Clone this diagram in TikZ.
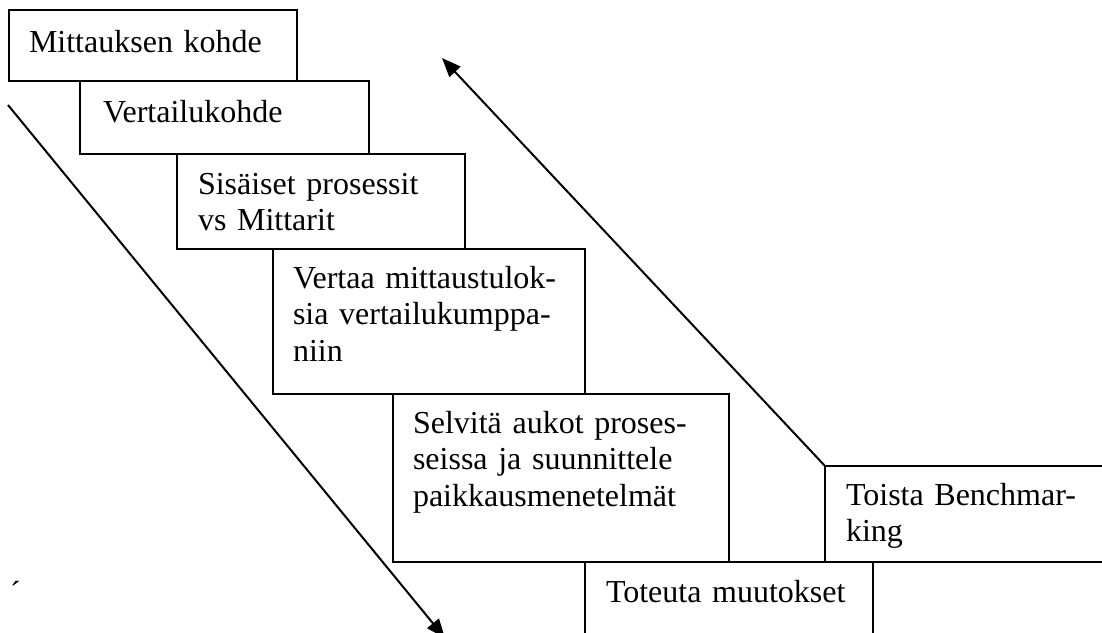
\documentclass[tikz,border=0pt]{standalone}
\usepackage{fontspec}
\setmainfont{Liberation Serif}
\usetikzlibrary{arrows.meta,calc}

\tikzset{
  stepbox/.style={draw=black, line width=2.2pt, rectangle, inner sep=0pt, outer sep=0pt, anchor=north west},
  steptext/.style={anchor=base west, inner sep=0pt, outer sep=0pt, text width=420pt, align=left,
    font=\fontsize{32}{36.7}\selectfont},
  flow/.style={draw=black, line width=2pt, -{Triangle[length=19pt,width=15pt]}},
}

\begin{document}
\begin{tikzpicture}[x=1pt, y=-1pt]
  \useasboundingbox (0,0) rectangle (1102,632);

  % staircase of steps
  \node[stepbox, minimum width=288pt, minimum height=71pt] (b1) at (9,10) {};
  \node[stepbox, minimum width=289pt, minimum height=73pt] (b2) at (80,81) {};
  \node[stepbox, minimum width=288pt, minimum height=95pt] (b3) at (177,154) {};
  \node[stepbox, minimum width=312pt, minimum height=145pt] (b4) at (273,249) {};
  \node[stepbox, minimum width=336pt, minimum height=168pt] (b5) at (393,394) {};
  \node[stepbox, minimum width=288pt, minimum height=100pt] (b6) at (585,562) {};
  \node[stepbox, minimum width=300pt, minimum height=96pt] (b7) at (825,466) {};

  % step labels
  \node[steptext] (t1) at ($(b1.north west)+(20,42)$) {Mittauksen kohde};
  \node[steptext] (t2) at ($(b2.north west)+(23,41)$) {Vertailukohde};
  \node[steptext] (t3) at ($(b3.north west)+(21,40)$) {Sisäiset prosessit\\vs Mittarit};
  \node[steptext] (t4) at ($(b4.north west)+(20,39)$) {Vertaa mittaustulok-\\sia vertailukumppa-\\niin};
  \node[steptext] (t5) at ($(b5.north west)+(20,39)$) {Selvitä aukot proses-\\seissa ja suunnittele\\paikkausmenetelmät};
  \node[steptext] (t6) at ($(b6.north west)+(21,40)$) {Toteuta muutokset};
  \node[steptext] (t7) at ($(b7.north west)+(21,39)$) {Toista Benchmar-\\king};

  % stray accent mark
  \node[anchor=base west, inner sep=0pt, font=\fontsize{32}{36.7}\selectfont] (acc) at (10,603) {´};

  % downward and return arrows
  \coordinate (downstart) at (8,105);
  \coordinate (downend) at (445,638);
  \coordinate (upend) at (442,58);
  \draw[flow] (downstart) -- (downend);
  \draw[flow] (b7.north west) -- (upend);
\end{tikzpicture}
\end{document}
